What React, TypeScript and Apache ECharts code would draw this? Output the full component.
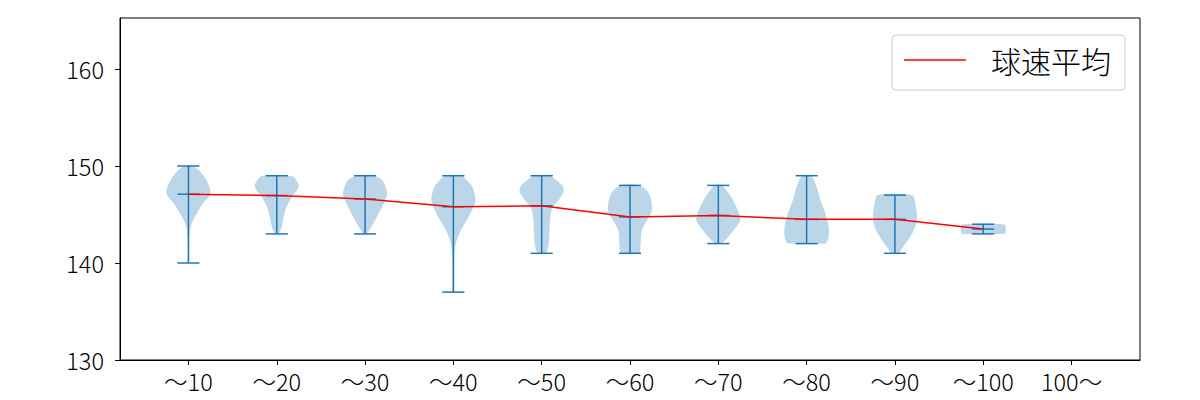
import React, { useEffect, useRef } from "react";
import * as echarts from "echarts";

const FONT = "'Noto Sans CJK JP', 'Noto Sans', sans-serif";

const categories = ["〜10", "〜20", "〜30", "〜40", "〜50", "〜60", "〜70", "〜80", "〜90", "〜100", "100〜"];
const means = [147.1, 146.95, 146.6, 145.8, 145.9, 144.75, 144.9, 144.5, 144.5, 143.5];
const mins = [140, 143, 143, 137, 141, 141, 142, 142, 141, 143];
const maxs = [150, 149, 149, 149, 149, 148, 148, 149, 147, 144];
const yTicks = [130, 140, 150, 160];

// [speed, relative half-width of the violin]
const profile10 = [[150, 0.15], [149.6, 0.45], [148.6, 0.8], [147.2, 1.0], [146.2, 0.68], [145.1, 0.38], [144.1, 0.15], [143.4, 0.07], [142.5, 0.04], [141, 0.03], [140, 0.03]];
const profile20 = [[149, 0.55], [148.9, 0.76], [147.9, 1.0], [146.8, 0.68], [145.8, 0.45], [144.8, 0.32], [143.8, 0.23], [143.1, 0.12], [143, 0.1]];
const profile30 = [[149, 0.35], [148.56, 0.77], [147.18, 1.0], [146.15, 0.85], [145.12, 0.62], [144.09, 0.38], [143.23, 0.15], [143, 0.1]];
const profile40 = [[149, 0.42], [148.9, 0.46], [147.9, 0.85], [146.5, 1.0], [145.5, 0.85], [144.4, 0.6], [143.4, 0.35], [142.3, 0.15], [141.3, 0.06], [139, 0.04], [137.2, 0.04], [137, 0.03]];
const profile50 = [[149, 0.4], [148.9, 0.46], [148.04, 0.92], [147.36, 1.0], [146.5, 0.77], [145.6, 0.46], [144.4, 0.38], [143.05, 0.35], [141.7, 0.3], [141.2, 0.23], [141, 0.2]];
const profile60 = [[148, 0.42], [147.2, 0.85], [145.5, 1.0], [144.4, 0.77], [143.4, 0.54], [142.3, 0.49], [141.3, 0.46], [141, 0.44]];
const profile70 = [[148, 0.17], [146.8, 0.58], [145.46, 0.88], [144.43, 1.0], [143.4, 0.7], [142.5, 0.38], [142.1, 0.2], [142, 0.17]];
const profile80 = [[149, 0.2], [147.8, 0.46], [146.5, 0.62], [145.1, 0.85], [143.75, 1.0], [142.7, 1.0], [142.2, 0.92], [142, 0.85]];
const profile90 = [[147, 0.77], [146.15, 0.92], [144.77, 1.0], [143.75, 0.92], [142.7, 0.69], [141.7, 0.38], [141.2, 0.23], [141, 0.2]];
const profile100 = [[144, 0.85], [143.9, 1.0], [143.1, 1.0], [143, 0.85]];
const profiles = [profile10, profile20, profile30, profile40, profile50, profile60, profile70, profile80, profile90, profile100];

export default function App() {
  const ref = useRef<HTMLDivElement>(null);
  useEffect(() => {
    const chart = echarts.init(ref.current!, null, { renderer: "svg" });
    const blue = "#1f77b4";
    const renderItem = (params: any, api: any) => {
      const i = params.dataIndex;
      const pos = i + 1;
      const prof = profiles[i];
      const right = prof.map(([v, w]) => api.coord([pos + w * 0.25, v]));
      const left = prof.slice().reverse().map(([v, w]) => api.coord([pos - w * 0.25, v]));
      const lineSeg = (x1: number, y1: number, x2: number, y2: number) => {
        const a = api.coord([x1, y1]);
        const b = api.coord([x2, y2]);
        return {
          type: "line",
          shape: { x1: a[0], y1: a[1], x2: b[0], y2: b[1] },
          style: { stroke: blue, lineWidth: 1.5 },
        };
      };
      return {
        type: "group",
        children: [
          {
            type: "polygon",
            shape: { points: right.concat(left), smooth: 0.3 },
            style: { fill: blue, opacity: 0.3 },
          },
          lineSeg(pos, mins[i], pos, maxs[i]),
          lineSeg(pos - 0.125, mins[i], pos + 0.125, mins[i]),
          lineSeg(pos - 0.125, maxs[i], pos + 0.125, maxs[i]),
          lineSeg(pos - 0.125, means[i], pos + 0.125, means[i]),
        ],
      };
    };
    chart.setOption({
      animation: false,
      backgroundColor: "#fff",
      textStyle: { fontFamily: FONT, fontWeight: 300 },
      grid: {
        left: 120, top: 18, width: 1020, height: 342,
        show: true, borderColor: "#000", borderWidth: 1, backgroundColor: "transparent",
      },
      xAxis: {
        type: "value", min: 0.225, max: 11.775,
        axisLine: { show: true, lineStyle: { color: "#000", width: 1 } },
        axisTick: { show: true, length: 5, customValues: categories.map((_, i) => i + 1), lineStyle: { color: "#000" } },
        axisLabel: {
          customValues: categories.map((_, i) => i + 1),
          formatter: (v: number) => categories[Math.round(v) - 1] ?? "",
          fontSize: 23.5, fontWeight: 300, color: "#000", margin: 9, fontFamily: FONT,
        },
        splitLine: { show: false },
      },
      yAxis: {
        type: "value", min: 130, max: 165.26,
        axisLine: { show: true, lineStyle: { color: "#000", width: 1 } },
        axisTick: { show: true, length: 5, customValues: yTicks, lineStyle: { color: "#000" } },
        axisLabel: { customValues: yTicks, fontSize: 23.5, fontWeight: 300, color: "#000", margin: 16, fontFamily: FONT },
        splitLine: { show: false },
      },
      legend: {
        right: 75, top: 35,
        padding: [10, 14, 15, 12],
        itemWidth: 62, itemHeight: 1.5,
        icon: "rect",
        borderColor: "#cccccc", borderWidth: 1, borderRadius: 4, backgroundColor: "#fff",
        textStyle: { fontSize: 30, fontWeight: 300, color: "#000", padding: [0, 0, 0, 20], fontFamily: FONT },
        data: [{ name: "球速平均" }],
      },
      series: [
        {
          type: "custom",
          renderItem,
          data: profiles.map((_, i) => [i + 1, mins[i], maxs[i]]),
          encode: { x: 0, y: [1, 2] },
          z: 2,
          silent: true,
        },
        {
          type: "line",
          name: "球速平均",
          data: means.map((m, i) => [i + 1, m]),
          symbol: "none",
          lineStyle: { color: "#ff0000", width: 1.5 },
          itemStyle: { color: "#ff0000" },
          z: 3,
        },
      ],
    });
    return () => chart.dispose();
  }, []);
  return <div ref={ref} style={{ position: "absolute", left: 0, top: 0, width: 1200, height: 400 }} />;
}
